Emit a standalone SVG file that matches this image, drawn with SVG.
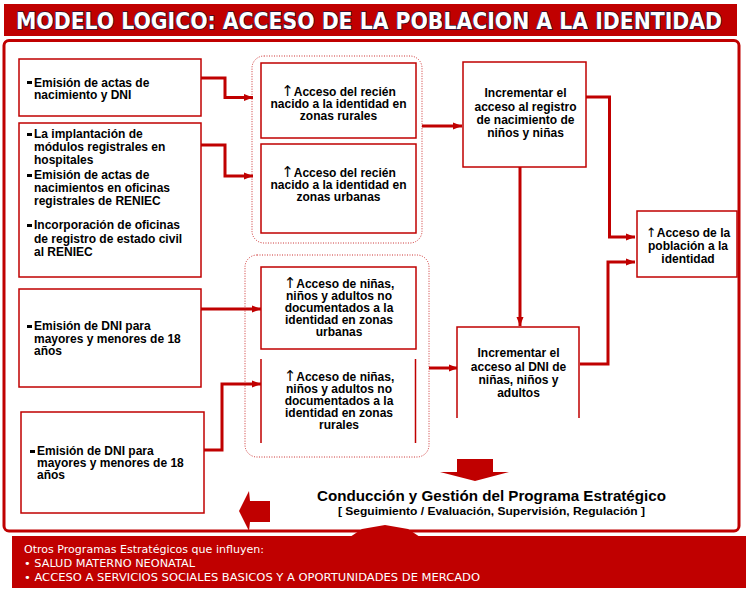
<svg xmlns="http://www.w3.org/2000/svg" width="749" height="590" viewBox="0 0 749 590">
<defs>
<style>
.t{font-family:"Liberation Sans",Arial,sans-serif;font-weight:bold;font-size:12px;fill:#000}
.c{text-anchor:middle}
.up{font-family:"DejaVu Sans",sans-serif;font-weight:normal;font-size:15px}
.box{fill:#fff;stroke:#c00000;stroke-width:1.5}
.grp{fill:none;stroke:#c00000;stroke-width:1;stroke-dasharray:1 1.5;opacity:0.8}
.con{fill:none;stroke:#c00000;stroke-width:3}
.red{fill:#c00000}
.w{font-family:"DejaVu Sans","Liberation Sans",sans-serif;font-size:10px;fill:#fff}
</style>
<marker id="ah" markerUnits="userSpaceOnUse" markerWidth="10" markerHeight="8" refX="9" refY="4" orient="auto">
<path d="M0,0.5 L9,4 L0,7.5 z" fill="#c00000"/>
</marker>
</defs>
<rect width="749" height="590" fill="#fff"/>
<g id="title">
<rect x="4" y="4" width="733" height="32" class="red"/>
<text x="369" y="28.5" text-anchor="middle" textLength="706" lengthAdjust="spacingAndGlyphs" style="font-family:'DejaVu Sans Condensed','DejaVu Sans',sans-serif;font-weight:bold;font-size:23px;fill:#fff;stroke:#1a1a40;stroke-width:1.3;paint-order:stroke">MODELO LOGICO: ACCESO DE LA POBLACION A LA IDENTIDAD</text>
</g>
<g id="frame">
<rect x="4" y="40.5" width="735" height="490.5" rx="5" fill="none" stroke="#c00000" stroke-width="3"/>
</g>
<g id="band">
<rect x="12" y="536" width="734" height="52" class="red"/>
<polygon points="350,537 362,529 385,525 408,529 420,537" class="red"/>
<text class="w" x="24" y="553" textLength="240" lengthAdjust="spacingAndGlyphs">Otros Programas Estratégicos que influyen:</text>
<text class="w" x="24" y="567" textLength="171" lengthAdjust="spacingAndGlyphs">• SALUD MATERNO NEONATAL</text>
<text class="w" x="24" y="581" textLength="456" lengthAdjust="spacingAndGlyphs">• ACCESO A SERVICIOS  SOCIALES  BASICOS Y A OPORTUNIDADES  DE MERCADO</text>
</g>
<g id="groups">
<rect x="252" y="56" width="170" height="187" rx="12" class="grp"/>
<rect x="245" y="255" width="184" height="202" rx="12" class="grp"/>
</g>
<g id="connectors">
<path class="con" d="M201,78 H225 V97.5 H253" marker-end="url(#ah)"/>
<path class="con" d="M201,145 H225 V176 H253" marker-end="url(#ah)"/>
<path class="con" d="M422,126 H462" marker-end="url(#ah)"/>
<path class="con" d="M586,97 H609.5 V237 H635" marker-end="url(#ah)"/>
<path class="con" d="M520,167 V326" marker-end="url(#ah)"/>
<path class="con" d="M201,309 H261" marker-end="url(#ah)"/>
<path class="con" d="M204,450 H222 V384 H261" marker-end="url(#ah)"/>
<path class="con" d="M429,368 H458" marker-end="url(#ah)"/>
<path class="con" d="M580,364 H608 V262 H635" marker-end="url(#ah)"/>
</g>
<g id="nA">
<rect x="19" y="59" width="182" height="57" class="box"/>
<rect x="27" y="81" width="5" height="3" fill="#000"/>
<text class="t" x="34" y="87">Emisión de actas de</text>
<text class="t" x="34" y="99">nacimiento y DNI</text>
</g>
<g id="nB">
<rect x="19" y="123" width="182" height="154" class="box"/>
<rect x="27" y="133" width="5" height="3" fill="#000"/>
<text class="t" x="34" y="138">La implantación de</text>
<text class="t" x="34" y="151">módulos registrales en</text>
<text class="t" x="34" y="164">hospitales</text>
<rect x="27" y="174" width="5" height="3" fill="#000"/>
<text class="t" x="34" y="179">Emisión de actas de</text>
<text class="t" x="34" y="192">nacimientos en oficinas</text>
<text class="t" x="34" y="205">registrales de RENIEC</text>
<rect x="27" y="224" width="5" height="3" fill="#000"/>
<text class="t" x="34" y="229">Incorporación de oficinas</text>
<text class="t" x="34" y="243">de registro de estado civil</text>
<text class="t" x="34" y="256">al RENIEC</text>
</g>
<g id="nC">
<rect x="19" y="289" width="182" height="98" class="box"/>
<rect x="27" y="325" width="5" height="3" fill="#000"/>
<text class="t" x="34" y="330">Emisión de DNI para</text>
<text class="t" x="34" y="342.5">mayores y menores de 18</text>
<text class="t" x="34" y="355">años</text>
</g>
<g id="nD">
<rect x="21" y="412" width="183" height="101" class="box"/>
<rect x="30" y="450" width="5" height="3" fill="#000"/>
<text class="t" x="37" y="455">Emisión de DNI para</text>
<text class="t" x="37" y="467">mayores y menores de 18</text>
<text class="t" x="37" y="479">años</text>
</g>
<g id="m1">
<rect x="261" y="63" width="155" height="75" class="box"/>
<text class="t c" x="338.5" y="96"><tspan class="up">↑</tspan>Acceso del recién</text>
<text class="t c" x="338.5" y="108">nacido a la identidad en</text>
<text class="t c" x="338.5" y="120">zonas rurales</text>
</g>
<g id="m2">
<rect x="261" y="144" width="155" height="89" class="box"/>
<text class="t c" x="338.5" y="177"><tspan class="up">↑</tspan>Acceso del recién</text>
<text class="t c" x="338.5" y="189">nacido a la identidad en</text>
<text class="t c" x="338.5" y="201">zonas urbanas</text>
</g>
<g id="m3">
<rect x="261" y="267" width="155" height="82" class="box"/>
<text class="t c" x="339" y="288"><tspan class="up">↑</tspan>Acceso de niñas,</text>
<text class="t c" x="339" y="300">niños y adultos no</text>
<text class="t c" x="339" y="312">documentados a la</text>
<text class="t c" x="339" y="324">identidad en zonas</text>
<text class="t c" x="339" y="336">urbanas</text>
</g>
<g id="m4">
<path d="M261,359 V443 M415.5,359 V443" fill="none" stroke="#c00000" stroke-width="1.5"/>
<text class="t c" x="339" y="381"><tspan class="up">↑</tspan>Acceso de niñas,</text>
<text class="t c" x="339" y="393">niños y adultos no</text>
<text class="t c" x="339" y="405">documentados a la</text>
<text class="t c" x="339" y="417">identidad en zonas</text>
<text class="t c" x="339" y="429">rurales</text>
</g>
<g id="i1">
<rect x="463" y="62" width="123" height="105" class="box"/>
<text class="t c" x="525.5" y="97">Incrementar el</text>
<text class="t c" x="525.5" y="110.5">acceso al registro</text>
<text class="t c" x="525.5" y="124">de nacimiento de</text>
<text class="t c" x="525.5" y="137">niños y niñas</text>
</g>
<g id="i2">
<path d="M457,418 V327 H579 V418" fill="#fff" stroke="#c00000" stroke-width="1.5"/>
<text class="t c" x="518.5" y="357">Incrementar el</text>
<text class="t c" x="518.5" y="370.5">acceso al DNI de</text>
<text class="t c" x="518.5" y="384">niñas, niños y</text>
<text class="t c" x="518.5" y="397">adultos</text>
</g>
<g id="goal">
<rect x="637" y="211" width="100" height="66" class="box"/>
<text class="t c" x="688" y="237"><tspan class="up" style="font-size:13px">↑</tspan>Acceso de la</text>
<text class="t c" x="688" y="250">población a la</text>
<text class="t c" x="688" y="263">identidad</text>
</g>
<g id="gestion">
<polygon points="457,459 493,459 493,472 509,472 475,481 440,472 457,472" class="red"/>
<polygon points="270,501 270,522 250,522 249,531 239,511 249,491 250,501" class="red"/>
<text class="t c" x="491.5" y="501" style="font-size:14.5px" textLength="349" lengthAdjust="spacingAndGlyphs">Conducción y Gestión del  Programa Estratégico</text>
<text class="t c" x="491.5" y="515" style="font-size:11.5px" textLength="307" lengthAdjust="spacingAndGlyphs">[ Seguimiento / Evaluación, Supervisión, Regulación ]</text>
</g>
</svg>
